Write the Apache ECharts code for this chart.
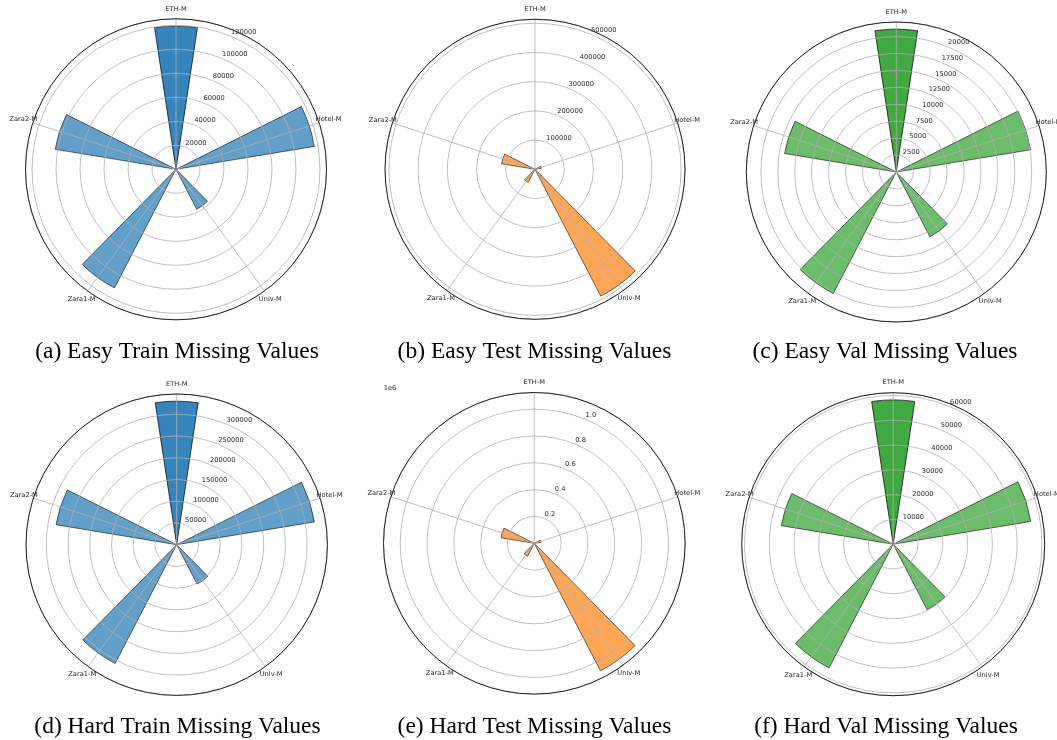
<!DOCTYPE html>
<html>
<head>
<meta charset="utf-8">
<script src="https://cdn.jsdelivr.net/npm/echarts@6/dist/echarts.min.js"></script>
<style>
  html, body { margin: 0; padding: 0; background: #fff; }
  #chart { width: 1057px; height: 740px; }
</style>
</head>
<body>
<div id="chart"></div>
<script>
// Sequence categories, clockwise from the top
const categories = ['ETH-M', 'Hotel-M', 'Univ-M', 'Zara1-M', 'Zara2-M'];

// Missing-value counts per split
const easyTrain = [119500, 116900, 37500, 111400, 102100];
const easyTest  = [0, 22700, 489000, 50700, 116000];
const easyVal   = [21100, 20100, 10760, 20220, 16720];
const hardTrain = [330100, 321100, 102000, 307700, 281300];
const hardTest  = [0, 51000, 1071000, 109000, 252000];
const hardVal   = [58200, 56270, 29800, 56200, 45750];

// Radial tick spacing per panel
const tickSteps = [20000, 100000, 2500, 50000, 200000, 10000];

const captions = [
  '(a) Easy Train Missing Values',
  '(b) Easy Test Missing Values',
  '(c) Easy Val Missing Values',
  '(d) Hard Train Missing Values',
  '(e) Hard Test Missing Values',
  '(f) Hard Val Missing Values'
];

const seriesValues = [easyTrain, easyTest, easyVal, hardTrain, hardTest, hardVal];

// Panel geometry and colours
const panels = [
  { center: [176, 169.3],   r: 150.5, cap: [177, 352],   color: '#1f77b4', scale: 1 },
  { center: [535, 169.3],   r: 150,   cap: [534.5, 352], color: '#ff7f0e', scale: 1 },
  { center: [896.3, 172],   r: 150,   cap: [885, 352],   color: '#2ca02c', scale: 1 },
  { center: [176.7, 544.7], r: 150.7, cap: [177.5, 727], color: '#1f77b4', scale: 1 },
  { center: [534.3, 543.3], r: 150.8, cap: [534.5, 727], color: '#ff7f0e', scale: 1e6 },
  { center: [893.2, 544.2], r: 151.5, cap: [886, 727],   color: '#2ca02c', scale: 1 }
];

const FS = 6.7;
const TXT = '#262626';
const GRID = '#b0b0b0';

const polar = [], angleAxis = [], radiusAxis = [], series = [], graphic = [];

panels.forEach((p, i) => {
  const vals = seriesValues[i];
  const step = tickSteps[i];
  const rmax = Math.max(...vals) * 1.05;
  const pBar = 3 * i, pGrid = 3 * i + 1, pLab = 3 * i + 2;

  // bars + category labels
  polar.push({ center: p.center, radius: p.r });
  // grid circles, radial lines and frame
  polar.push({ center: p.center, radius: p.r });
  // radial tick labels (22.5 deg clockwise from north)
  polar.push({ center: [p.center[0], p.center[1] - 4.3], radius: p.r });

  angleAxis.push({
    polarIndex: pBar, type: 'category', data: categories,
    startAngle: 126, clockwise: true,
    axisLine: { show: false }, axisTick: { show: false }, splitLine: { show: false },
    axisLabel: {
      interval: 0, margin: 10,
      formatter: v => '{c|' + v + '}',
      rich: { c: { width: 0, lineHeight: 0, align: 'center', fontSize: FS, color: TXT, fontFamily: 'DejaVu Sans' } }
    }
  });
  angleAxis.push({
    polarIndex: pGrid, type: 'value', min: 0, max: 360, interval: 72,
    startAngle: 90, clockwise: true, z: 4,
    axisLine: { show: true, lineStyle: { color: '#111', width: 0.9 } },
    axisTick: { show: false }, axisLabel: { show: false },
    splitLine: { show: true, lineStyle: { color: GRID, width: 0.8 } }
  });
  angleAxis.push({
    polarIndex: pLab, type: 'value', min: 0, max: 360,
    startAngle: 67.5, clockwise: true, show: false
  });

  radiusAxis.push({ polarIndex: pBar, min: 0, max: rmax, show: false });
  radiusAxis.push({
    polarIndex: pGrid, min: 0, max: rmax, interval: step, z: 3,
    axisLine: { show: false }, axisTick: { show: false }, axisLabel: { show: false },
    splitLine: { show: true, lineStyle: { color: GRID, width: 0.8 } }
  });
  radiusAxis.push({
    polarIndex: pLab, min: 0, max: rmax, interval: step, z: 5,
    axisLine: { show: false }, axisTick: { show: false }, splitLine: { show: false },
    axisLabel: {
      margin: 0, rotate: 0,
      formatter: v => {
        if (v <= 0 || Math.abs(v / step - Math.round(v / step)) > 1e-6) return '';
        const t = p.scale === 1 ? String(Math.round(v)) : (v / p.scale).toFixed(1);
        return '{l|' + t + '}';
      },
      rich: { l: { width: 0, lineHeight: 0, align: 'left', fontSize: FS, color: TXT, fontFamily: 'DejaVu Sans' } }
    }
  });

  series.push({
    type: 'bar', coordinateSystem: 'polar', polarIndex: pBar,
    barWidth: '23.87%', z: 2,
    data: vals.map((v, k) => ({
      value: v,
      itemStyle: { color: p.color, opacity: k === 0 ? 0.9 : 0.7, borderColor: '#000', borderWidth: 0.8 }
    }))
  });

  graphic.push({
    type: 'text', x: p.cap[0], y: p.cap[1],
    style: { text: captions[i], align: 'center', verticalAlign: 'middle',
             font: '23.5px "Liberation Serif"', fill: '#000' }
  });
});

// offset text for the scaled radial axis
graphic.push({
  type: 'text', x: 390, y: 388,
  style: { text: '1e6', align: 'center', verticalAlign: 'middle', font: FS + 'px "DejaVu Sans"', fill: TXT }
});

const chart = echarts.init(document.getElementById('chart'), null, { renderer: 'canvas' });
chart.setOption({
  animation: false,
  backgroundColor: '#fff',
  textStyle: { fontFamily: 'DejaVu Sans' },
  polar, angleAxis, radiusAxis, series, graphic
});
</script>
</body>
</html>
